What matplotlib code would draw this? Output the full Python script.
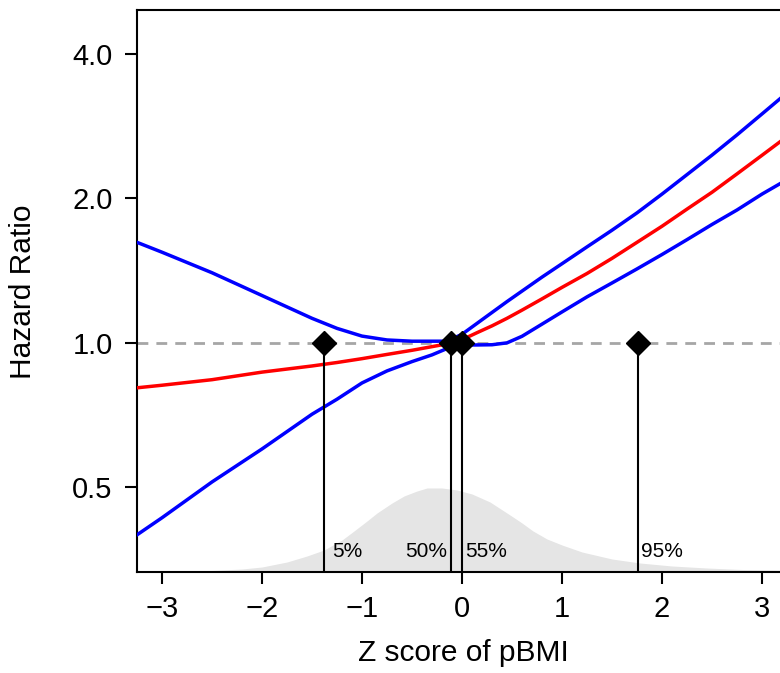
import matplotlib
matplotlib.use('Agg')
import matplotlib.pyplot as plt
import numpy as np

plt.rcParams['font.family'] = ['Liberation Sans', 'DejaVu Sans']

# spline estimate of the hazard ratio with its 95% band
z = [-3.25, -3.0, -2.5, -2.0, -1.5, -1.25, -1.0, -0.75, -0.5, -0.3, -0.15, 0.0, 0.15,
     0.3, 0.45, 0.6, 0.8, 1.0, 1.25, 1.5, 1.75, 2.0, 2.25, 2.5, 2.75, 3.0, 3.3]
hr = [0.806, 0.816, 0.838, 0.869, 0.895, 0.91, 0.927, 0.946, 0.965, 0.982, 0.995, 1.015, 1.05,
      1.085, 1.125, 1.17, 1.235, 1.305, 1.395, 1.50, 1.62, 1.75, 1.90, 2.06, 2.25, 2.46, 2.74]
hr_upper = [1.62, 1.545, 1.40, 1.255, 1.125, 1.072, 1.033, 1.014, 1.008, 1.008, 1.008, 1.042, 1.098,
            1.157, 1.219, 1.282, 1.371, 1.462, 1.585, 1.717, 1.866, 2.042, 2.242, 2.462, 2.713, 3.0, 3.387]
hr_lower = [0.398, 0.432, 0.513, 0.601, 0.71, 0.763, 0.825, 0.874, 0.914, 0.944, 0.973, 0.99, 0.99,
            0.991, 1.0, 1.032, 1.094, 1.16, 1.247, 1.333, 1.426, 1.528, 1.641, 1.765, 1.892, 2.042, 2.219]

# distribution of the z scores (drawn at the bottom)
dens_x = [-3.25, -2.8, -2.5, -2.2, -2.0, -1.75, -1.55, -1.38, -1.2, -1.08, -0.95,
          -0.85, -0.7, -0.58, -0.45, -0.35, -0.2, -0.05, 0.1, 0.28, 0.48, 0.6,
          0.71, 0.85, 1.0, 1.2, 1.5, 1.78, 2.1, 2.45, 2.8, 3.1, 3.3]
dens_y = [0.0025, 0.005, 0.0075, 0.015, 0.025, 0.05, 0.08, 0.11, 0.16, 0.205, 0.255,
          0.295, 0.345, 0.38, 0.405, 0.42, 0.42, 0.41, 0.39, 0.35, 0.285, 0.245,
          0.205, 0.165, 0.135, 0.10, 0.065, 0.045, 0.03, 0.02, 0.0125, 0.01, 0.0075]

# percentiles of z
pct_labels = ['5%', '50%', '55%', '95%']
pct_z = [-1.38, -0.107, 0.0, 1.76]

fig = plt.figure(figsize=(7.8, 6.73), dpi=100)
ax = fig.add_axes([137 / 780, 1 - 572 / 673, 655 / 780, 562 / 673])

# density in axes-fraction height
dens_top = 2.81
ax.fill_between(dens_x, 0, np.array(dens_y) / dens_top, transform=ax.get_xaxis_transform(),
                color='#e5e5e5', lw=0, zorder=1)

ax.axhline(1.0, color='#a6a6a6', lw=2, dashes=(3.9, 2.9), zorder=2)

ax.plot(z, hr_upper, color='#0000ff', lw=2.5, zorder=3)
ax.plot(z, hr_lower, color='#0000ff', lw=2.5, zorder=3)
ax.plot(z, hr, color='#ff0000', lw=2.5, zorder=4)

ax.set_yscale('log')
ax.set_xlim(-3.25, 3.3)
ax.set_ylim(0.333, 4.94)

for lab, p in zip(pct_labels, pct_z):
    ax.plot([p, p], [0.333, 1.0], color='black', lw=1.5, zorder=5)
    ax.plot(p, 1.0, marker='D', ms=12, color='black', zorder=6)
    if lab == '50%':
        ax.annotate(lab, (p, 0.037), xycoords=('data', 'axes fraction'), xytext=(-3, 0),
                    textcoords='offset points', ha='right', va='center', fontsize=15)
    else:
        off = 6 if lab == '5%' else 2.5
        ax.annotate(lab, (p, 0.037), xycoords=('data', 'axes fraction'), xytext=(off, 0),
                    textcoords='offset points', ha='left', va='center', fontsize=15)

ax.set_yticks([0.5, 1.0, 2.0, 4.0])
ax.set_yticklabels(['0.5', '1.0', '2.0', '4.0'])
ax.yaxis.set_minor_locator(matplotlib.ticker.NullLocator())
ax.set_xticks([-3, -2, -1, 0, 1, 2, 3])

ax.tick_params(axis='both', direction='out', length=8.6, width=1.5, labelsize=21, colors='black')
ax.tick_params(axis='y', pad=9)
ax.tick_params(axis='x', pad=8)
for s in ['left', 'bottom', 'top']:
    ax.spines[s].set_linewidth(1.5)
ax.spines['right'].set_visible(False)

fig.text(23 / 780, 1 - 292 / 673, 'Hazard Ratio', rotation=90, ha='center', va='center', fontsize=21.5)
fig.text(463 / 780, 1 - 661 / 673, 'Z score of pBMI', ha='center', va='baseline', fontsize=21.5)

fig.savefig('out.png', dpi=100)
